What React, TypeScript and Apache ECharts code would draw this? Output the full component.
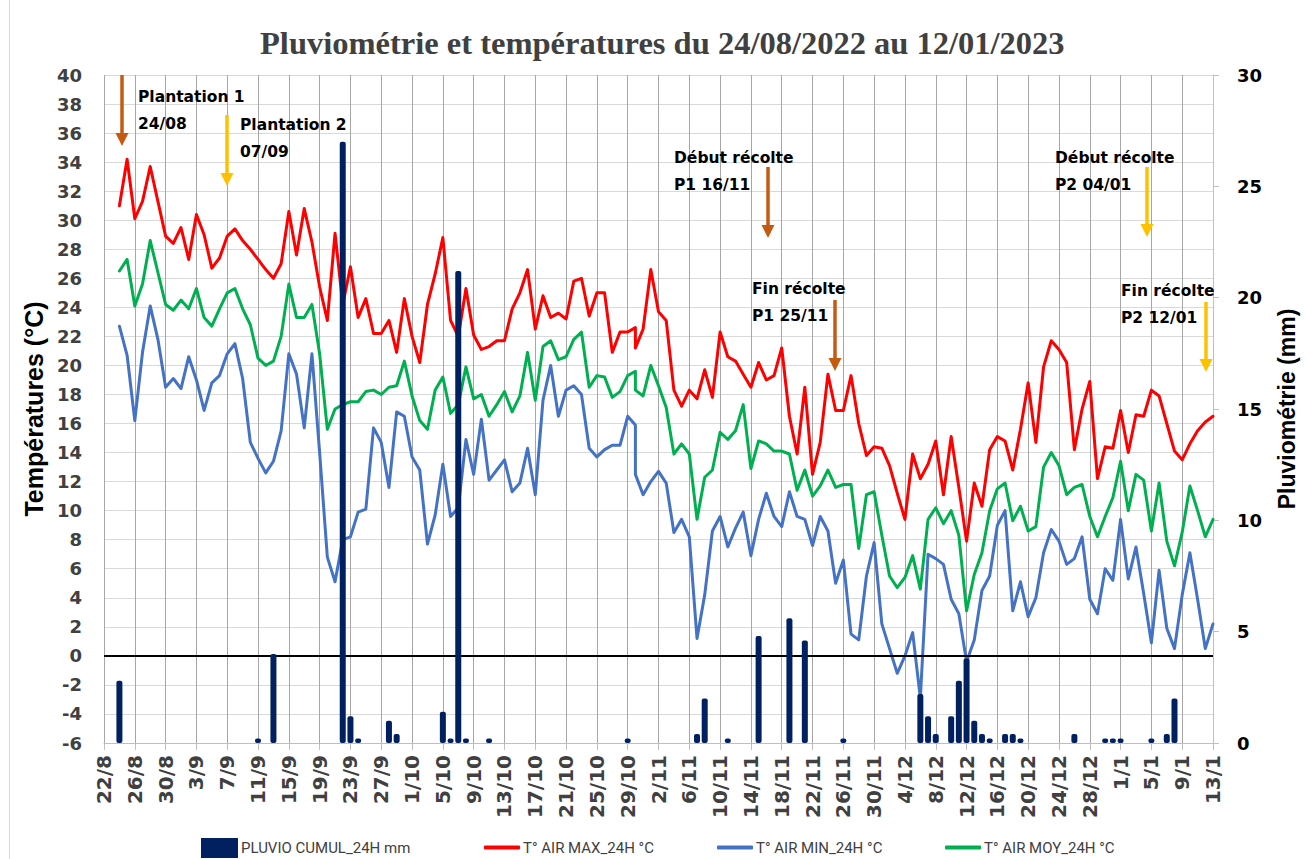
import React, { useEffect, useRef } from "react";
import * as echarts from "echarts";

// ---------- DATA ----------
const TITLE = "Pluviométrie et températures du 24/08/2022 au 12/01/2023";
const axisOrigin = "2022-08-22";
const firstDay = "2022-08-24";
const lastDay = "2023-01-13";
const repeatedDay = "2022-10-30"; // two records on the day of the time change

const tickLabels = [
  "22/8", "26/8", "30/8", "3/9", "7/9", "11/9", "15/9", "19/9", "23/9", "27/9",
  "1/10", "5/10", "9/10", "13/10", "17/10", "21/10", "25/10", "29/10", "2/11", "6/11",
  "10/11", "14/11", "18/11", "22/11", "26/11", "30/11", "4/12", "8/12", "12/12", "16/12",
  "20/12", "24/12", "28/12", "1/1", "5/1", "9/1", "13/1",
];

const seriesNames = ["PLUVIO CUMUL_24H mm", "T° AIR MAX_24H °C", "T° AIR MIN_24H °C", "T° AIR MOY_24H °C"];

const rain = [
  2.8, 0, 0, 0, 0, 0, 0, 0, 0, 0,
  0, 0, 0, 0, 0, 0, 0, 0, 0.2, 0,
  4.0, 0, 0, 0, 0, 0, 0, 0, 0, 27.0,
  1.2, 0.2, 0, 0, 0, 1.0, 0.4, 0, 0, 0,
  0, 0, 1.4, 0.2, 21.2, 0.2, 0, 0, 0.2, 0,
  0, 0, 0, 0, 0, 0, 0, 0, 0, 0,
  0, 0, 0, 0, 0, 0, 0.2, 0,
  0, 0, 0, 0, 0, 0, 0, 0, 0.4, 2.0, 0,
  0, 0.2, 0, 0, 0, 4.8, 0, 0, 0, 5.6,
  0, 4.6, 0, 0, 0, 0, 0.2, 0, 0, 0,
  0, 0, 0, 0, 0, 0, 2.2, 1.2, 0.4, 0,
  1.2, 2.8, 3.8, 1.0, 0.4, 0.2, 0, 0.4, 0.4, 0.2,
  0, 0, 0, 0, 0, 0, 0.4, 0, 0, 0,
  0.2, 0.2, 0.2, 0, 0, 0, 0.2, 0, 0.4, 2.0,
  0, 0, 0, 0, 0,
];

const tMax = [
  31.0, 34.2, 30.1, 31.3, 33.7, 31.3, 28.9, 28.4, 29.5, 27.3,
  30.4, 29.0, 26.7, 27.4, 28.9, 29.4, 28.6, 28.0, 27.3, 26.6,
  26.0, 27.0, 30.6, 27.6, 30.8, 28.5, 25.4, 23.1, 29.1, 24.2,
  26.8, 23.3, 24.6, 22.2, 22.2, 23.1, 20.9, 24.6, 22.0, 20.2,
  24.2, 26.3, 28.8, 23.1, 22.0, 25.3, 22.1, 21.1, 21.3, 21.7,
  21.7, 23.9, 25.0, 26.6, 22.5, 24.8, 23.3, 23.6, 23.2, 25.8,
  26.0, 23.4, 25.0, 25.0, 20.9, 22.3, 22.3, 22.6,
  21.2, 22.5, 26.6, 23.7, 23.1, 18.3, 17.2, 18.3, 17.7, 19.7, 17.8,
  22.3, 20.6, 20.3, 19.4, 18.5, 20.2, 19.0, 19.3, 21.2, 16.5,
  13.9, 18.5, 12.5, 14.7, 19.4, 16.9, 16.9, 19.3, 16.0, 13.8,
  14.4, 14.3, 13.1, 11.2, 9.4, 13.9, 12.2, 13.2, 14.8, 11.1,
  15.1, 11.6, 7.9, 11.9, 10.3, 14.2, 15.1, 14.8, 12.8, 15.6,
  18.8, 14.7, 19.9, 21.7, 21.1, 20.2, 14.2, 17.0, 18.9, 12.2,
  14.4, 14.3, 16.9, 14.0, 16.6, 16.5, 18.3, 17.9, 16.0, 14.1,
  13.5, 14.6, 15.5, 16.1, 16.5,
];

const tMin = [
  22.7, 20.7, 16.2, 20.9, 24.1, 21.8, 18.5, 19.1, 18.4, 20.6,
  19.0, 16.9, 18.8, 19.3, 20.8, 21.5, 19.1, 14.7, 13.6, 12.6,
  13.4, 15.5, 20.8, 19.4, 15.7, 20.8, 14.0, 6.8, 5.1, 8.0,
  8.2, 9.9, 10.1, 15.7, 14.7, 11.6, 16.8, 16.5, 13.7, 12.8,
  7.7, 9.7, 13.2, 9.6, 10.2, 14.9, 12.5, 16.3, 12.1, 12.8,
  13.5, 11.3, 11.9, 14.3, 11.1, 17.6, 20.0, 16.5, 18.3, 18.6,
  18.0, 14.3, 13.7, 14.2, 14.5, 14.5, 16.5, 15.9,
  12.5, 11.1, 12.0, 12.7, 11.9, 8.5, 9.4, 8.2, 1.2, 4.2, 8.6,
  9.6, 7.5, 8.8, 9.9, 6.9, 9.4, 11.2, 9.6, 8.9, 11.3,
  9.6, 9.4, 7.6, 9.6, 8.6, 5.0, 6.6, 1.5, 1.1, 5.5,
  7.8, 2.2, 0.5, -1.2, 0.0, 1.6, -2.9, 7.0, 6.7, 6.3,
  3.9, 2.9, -0.4, 1.1, 4.5, 5.5, 9.0, 10.0, 3.1, 5.1,
  2.7, 4.0, 7.1, 8.7, 7.9, 6.3, 6.7, 8.2, 3.9, 2.9,
  6.0, 5.2, 9.4, 5.3, 7.5, 4.3, 0.9, 5.9, 1.9, 0.5,
  4.2, 7.1, 3.9, 0.5, 2.2,
];

const tMoy = [
  26.5, 27.3, 24.1, 25.6, 28.6, 26.4, 24.2, 23.8, 24.5, 23.9,
  25.3, 23.3, 22.7, 23.9, 25.0, 25.3, 23.9, 22.8, 20.5, 20.0,
  20.3, 22.0, 25.6, 23.3, 23.3, 24.2, 20.8, 15.6, 17.0, 17.3,
  17.5, 17.5, 18.2, 18.3, 18.0, 18.5, 18.6, 20.3, 17.9, 16.2,
  15.6, 18.3, 19.2, 16.7, 17.3, 19.9, 17.7, 18.0, 16.5, 17.3,
  18.2, 16.8, 17.9, 20.9, 17.6, 21.3, 21.7, 20.4, 20.6, 21.8,
  22.3, 18.5, 19.3, 19.2, 17.8, 18.2, 19.3, 19.6,
  18.3, 17.9, 20.0, 18.6, 17.1, 13.9, 14.6, 13.9, 9.4, 12.3, 12.8,
  15.4, 14.9, 15.5, 17.3, 12.9, 14.8, 14.6, 14.1, 14.1, 13.9,
  11.4, 12.8, 11.0, 11.7, 12.8, 11.6, 11.8, 11.8, 7.4, 11.1,
  11.3, 8.3, 5.5, 4.7, 5.4, 6.9, 4.6, 9.4, 10.2, 9.1,
  10.0, 8.3, 3.1, 5.6, 7.1, 10.0, 11.5, 11.9, 9.3, 10.3,
  8.6, 8.9, 13.0, 14.0, 13.1, 11.1, 11.6, 11.8, 9.6, 8.2,
  9.6, 10.9, 13.4, 10.0, 12.5, 12.1, 8.6, 11.9, 7.9, 6.2,
  8.5, 11.7, 10.0, 8.2, 9.4,
];

const annotations = [
  { text: "Plantation 1\n24/08", color: "#C55A11" },
  { text: "Plantation 2\n07/09", color: "#FFC000" },
  { text: "Début récolte\nP1 16/11", color: "#C55A11" },
  { text: "Fin récolte\nP1 25/11", color: "#C55A11" },
  { text: "Début récolte\nP2 04/01", color: "#FFC000" },
  { text: "Fin récolte\nP2 12/01", color: "#FFC000" },
];

// ---------- HELPERS ----------
const DAY = 86400000;
function buildDates(): string[] {
  const out: string[] = [];
  for (let t = Date.parse(firstDay); t <= Date.parse(lastDay); t += DAY) {
    const s = new Date(t).toISOString().slice(0, 10);
    out.push(s);
    if (s === repeatedDay) out.push(s);
  }
  return out;
}
const dates = buildDates();
const dayOffset = (d: string) => Math.round((Date.parse(d) - Date.parse(axisOrigin)) / DAY);
const xs = dates.map(dayOffset);
const pairs = (vals: number[]) => vals.map((v, i) => [xs[i], v]);

// layout of annotation blocks (pixel positions)
const annLayout = [
  { tx: 138, ty: 83, ax: 122, y1: 75, y2: 146 },
  { tx: 240, ty: 111, ax: 227, y1: 115, y2: 186 },
  { tx: 674, ty: 144, ax: 768, y1: 167, y2: 238 },
  { tx: 752, ty: 275, ax: 835, y1: 300, y2: 371 },
  { tx: 1055, ty: 144, ax: 1147, y1: 167, y2: 237 },
  { tx: 1121, ty: 277, ax: 1206, y1: 302, y2: 372 },
];

function buildGraphic() {
  const els: any[] = [
    {
      type: "line",
      z: 0,
      shape: { x1: 9.5, y1: 0, x2: 9.5, y2: 859 },
      style: { stroke: "#d9d9d9", lineWidth: 1 },
    },
  ];
  annotations.forEach((a, i) => {
    const L = annLayout[i];
    els.push({
      type: "text",
      left: L.tx,
      top: L.ty,
      z: 100,
      style: {
        text: a.text,
        font: 'bold 15.5px "DejaVu Sans", sans-serif',
        fill: "#000",
        lineHeight: 27,
      },
    });
    els.push({
      type: "line",
      z: 100,
      shape: { x1: L.ax, y1: L.y1, x2: L.ax, y2: L.y2 - 12 },
      style: { stroke: a.color, lineWidth: 3.5 },
    });
    els.push({
      type: "polygon",
      z: 100,
      shape: { points: [[L.ax - 6.5, L.y2 - 13], [L.ax + 6.5, L.y2 - 13], [L.ax, L.y2]] },
      style: { fill: a.color },
    });
  });
  return els;
}

const legendText = { fontFamily: "Roboto, sans-serif", fontSize: 15, color: "#404040", padding: [0, 0, 0, -2] };

const option: any = {
  animation: false,
  backgroundColor: "#ffffff",
  title: {
    text: TITLE,
    left: 255,
    top: 21,
    textStyle: { fontFamily: '"Liberation Serif", serif', fontWeight: "bold", fontSize: 32.5, color: "#404040" },
  },
  grid: { left: 104, right: 88, top: 75, bottom: 116 },
  xAxis: {
    type: "value",
    min: 0,
    max: 144,
    interval: 4,
    axisLine: { show: true, onZero: false, lineStyle: { color: "#bfbfbf", width: 1 } },
    axisTick: { show: true, length: 7, lineStyle: { color: "#bfbfbf" } },
    axisLabel: {
      rotate: 90,
      margin: 12,
      fontFamily: '"DejaVu Sans", sans-serif',
      fontWeight: "bold",
      fontSize: 20,
      color: "#404040",
      formatter: (v: number) => tickLabels[Math.round(v / 4)] ?? "",
    },
    splitLine: { show: true, lineStyle: { color: "#a6a6a6", width: 1 } },
  },
  yAxis: [
    {
      type: "value",
      min: -6,
      max: 40,
      interval: 2,
      axisLine: { show: false },
      axisTick: { show: false },
      axisLabel: { fontFamily: '"DejaVu Sans", sans-serif', fontWeight: "bold", fontSize: 18, color: "#404040", margin: 22 },
      splitLine: { show: true, lineStyle: { color: "#d9d9d9", width: 1 } },
      name: "Températures (°C)",
      nameLocation: "middle",
      nameRotate: 90,
      nameGap: 58,
      nameTextStyle: { fontFamily: '"Liberation Sans", sans-serif', fontWeight: "bold", fontSize: 25, color: "#000" },
    },
    {
      type: "value",
      position: "right",
      min: 0,
      max: 30,
      interval: 5,
      axisLine: { show: true, lineStyle: { color: "#bfbfbf" } },
      axisTick: { show: true, length: 6, lineStyle: { color: "#bfbfbf" } },
      axisLabel: { fontFamily: '"DejaVu Sans", sans-serif', fontWeight: "bold", fontSize: 18, color: "#000", margin: 24 },
      splitLine: { show: false },
      name: "Pluviométrie (mm)",
      nameLocation: "middle",
      nameRotate: 90,
      nameGap: 62,
      nameTextStyle: { fontFamily: '"Liberation Sans", sans-serif', fontWeight: "bold", fontSize: 23, color: "#000" },
    },
  ],
  legend: [
    { data: [seriesNames[0]], left: 196, top: 833, icon: "rect", itemWidth: 37, itemHeight: 20, textStyle: legendText, selectedMode: false },
    { data: [seriesNames[1]], left: 479, top: 835, icon: "roundRect", itemWidth: 36, itemHeight: 4, textStyle: legendText, selectedMode: false },
    { data: [seriesNames[2]], left: 712, top: 835, icon: "roundRect", itemWidth: 36, itemHeight: 4, textStyle: legendText, selectedMode: false },
    { data: [seriesNames[3]], left: 940, top: 835, icon: "roundRect", itemWidth: 36, itemHeight: 4, textStyle: legendText, selectedMode: false },
  ],
  series: [
    {
      name: seriesNames[0],
      type: "bar",
      yAxisIndex: 1,
      data: pairs(rain),
      barWidth: 6,
      z: 5,
      itemStyle: { color: "#002060", borderRadius: 2 },
    },
    {
      name: seriesNames[1],
      type: "line",
      data: pairs(tMax),
      showSymbol: false,
      symbol: "none",
      z: 3,
      lineStyle: { color: "#FF0000", width: 3, join: "round", cap: "round" },
      itemStyle: { color: "#FF0000" },
      markLine: {
        silent: true,
        symbol: "none",
        label: { show: false },
        lineStyle: { color: "#000000", width: 2, type: "solid" },
        data: [{ yAxis: 0 }],
      },
    },
    {
      name: seriesNames[2],
      type: "line",
      data: pairs(tMin),
      showSymbol: false,
      symbol: "none",
      z: 3,
      lineStyle: { color: "#4472C4", width: 3, join: "round", cap: "round" },
      itemStyle: { color: "#4472C4" },
    },
    {
      name: seriesNames[3],
      type: "line",
      data: pairs(tMoy),
      showSymbol: false,
      symbol: "none",
      z: 3,
      lineStyle: { color: "#00B050", width: 3, join: "round", cap: "round" },
      itemStyle: { color: "#00B050" },
    },
  ],
  graphic: buildGraphic(),
};

export default function App() {
  const ref = useRef<HTMLDivElement>(null);
  useEffect(() => {
    document.body.style.margin = "0";
    const chart = echarts.init(ref.current as HTMLDivElement, null, { renderer: "svg" });
    chart.setOption(option);
    return () => chart.dispose();
  }, []);
  return (
    <div
      ref={ref}
      style={{ position: "absolute", left: 0, top: 0, width: 1306, height: 859, background: "#fff" }}
    />
  );
}
